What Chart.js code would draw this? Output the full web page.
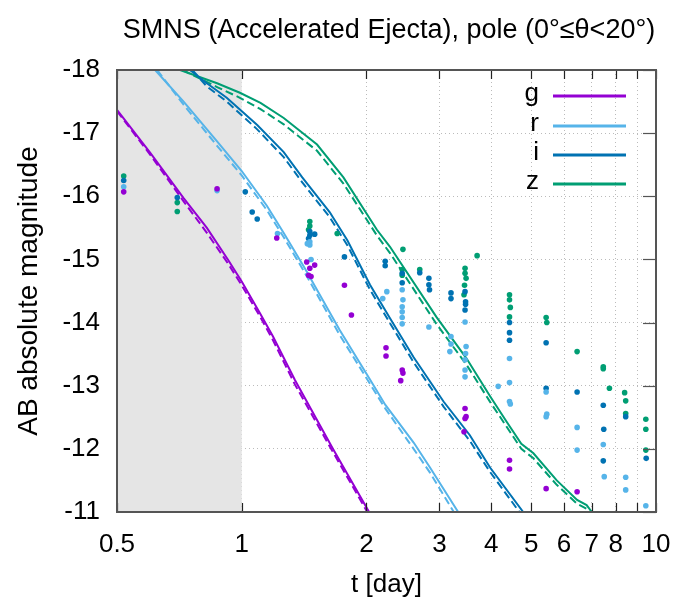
<!DOCTYPE html>
<html><head><meta charset="utf-8">
<script src="https://cdn.jsdelivr.net/npm/chart.js@4/dist/chart.umd.min.js"></script>
<style>html,body{margin:0;padding:0;background:#fff}#wrap{width:676px;height:600px}</style>
</head><body><div id="wrap"><canvas id="c" width="676" height="600"></canvas></div>
<script>
// ---------- text ----------
const titleText = 'SMNS (Accelerated Ejecta), pole (0°≤θ<20°)';
const xTitle = 't [day]';
const yTitle = 'AB absolute magnitude';
const xTickValues = [0.5, 1, 2, 3, 4, 5, 6, 7, 8, 9, 10];
const xTickLabels = ['0.5', '1', '2', '3', '4', '5', '6', '7', '8', '', '10'];
const yTickValues = [-18, -17, -16, -15, -14, -13, -12, -11];
const bands = ['g', 'r', 'i', 'z'];
const shadeFrom = 0.5, shadeTo = 1;

// ---------- model light curves (solid) ----------
const gSolidT   = [0.5, 0.601, 0.724, 0.824, 0.93, 1.0, 1.106, 1.19, 1.344, 1.66, 2.03];
const gSolidMag = [-17.37, -16.69, -15.97, -15.5, -14.98, -14.65, -14.15, -13.78, -13.09, -12.0, -11.0];
const rSolidT   = [0.618, 0.724, 0.872, 1.0, 1.15, 1.263, 1.42, 1.725, 2.04, 2.22, 2.6, 2.85, 3.33];
const rSolidMag = [-18, -17.5, -16.87, -16.4, -15.85, -15.42, -14.86, -13.88, -13.1, -12.7, -12.1, -11.7, -11.0];
const iSolidT   = [0.75, 0.824, 0.92, 1.09, 1.263, 1.4, 1.63, 1.8, 2.04, 2.28, 2.6, 3.07, 3.55, 3.98, 4.78];
const iSolidMag = [-18, -17.79, -17.56, -17.13, -16.7, -16.3, -15.75, -15.3, -14.6, -14.07, -13.45, -12.75, -12.22, -11.7, -11.0];
const zSolidT   = [0.71, 0.872, 0.99, 1.11, 1.263, 1.52, 1.76, 2.12, 2.28, 2.95, 3.49, 3.98, 4.36, 4.73, 5.06, 5.76, 6.45, 6.8, 7.0];
const zSolidMag = [-18, -17.79, -17.64, -17.48, -17.24, -16.82, -16.3, -15.47, -15.2, -14.09, -13.43, -12.83, -12.43, -12.08, -11.93, -11.5, -11.19, -11.11, -11.0];

// ---------- model light curves (dashed) ----------
const gDashT   = [0.5, 0.601, 0.724, 0.824, 0.93, 1.0, 1.106, 1.19, 1.344, 1.66, 2.01];
const gDashMag = [-17.35, -16.66, -15.92, -15.42, -14.92, -14.59, -14.1, -13.72, -13.02, -11.95, -11.0];
const rDashT   = [0.625, 0.724, 0.872, 1.0, 1.15, 1.263, 1.42, 1.725, 2.04, 2.22, 2.6, 2.85, 3.25];
const rDashMag = [-18, -17.45, -16.8, -16.33, -15.78, -15.35, -14.79, -13.8, -13.03, -12.64, -12.0, -11.62, -11.0];
const iDashT   = [0.76, 0.824, 0.92, 1.09, 1.263, 1.4, 1.63, 1.8, 2.04, 2.28, 2.6, 3.07, 3.55, 3.98, 4.68];
const iDashMag = [-18, -17.74, -17.5, -17.06, -16.62, -16.22, -15.67, -15.22, -14.52, -13.99, -13.37, -12.67, -12.13, -11.63, -11.0];
const zDashT   = [0.72, 0.872, 0.99, 1.11, 1.263, 1.52, 1.76, 2.12, 2.28, 2.95, 3.49, 3.98, 4.36, 4.73, 5.06, 5.76, 6.45, 6.8, 6.95];
const zDashMag = [-18, -17.73, -17.56, -17.38, -17.14, -16.72, -16.2, -15.38, -15.1, -13.98, -13.33, -12.74, -12.35, -12.0, -11.85, -11.43, -11.13, -11.05, -11.0];

// ---------- observed points ----------
const gObsT   = [0.519, 0.872, 1.215, 1.435, 1.46, 1.45, 1.47, 1.5, 1.77, 1.84, 2.23, 2.23, 2.44, 2.45, 2.42, 3.46, 3.46, 3.48, 3.44, 4.43, 4.43, 5.43, 6.45];
const gObsMag = [-16.07, -16.12, -15.34, -14.96, -14.86, -14.75, -14.73, -14.91, -14.59, -14.12, -13.6, -13.47, -13.25, -13.2, -13.08, -12.64, -12.48, -12.51, -12.27, -11.82, -11.68, -11.37, -11.32];
const rObsT   = [0.519, 0.872, 1.22, 1.46, 1.46, 1.44, 1.47, 2.24, 2.19, 2.44, 2.45, 2.44, 2.44, 2.44, 2.44, 2.83, 3.2, 3.2, 3.18, 3.46, 3.48, 3.47, 3.46, 3.46, 3.46, 4.16, 4.43, 4.43, 4.43, 4.45, 5.43, 5.45, 5.43, 6.45, 6.45, 7.46, 7.5, 8.45, 8.45, 9.45];
const rObsMag = [-16.15, -16.09, -15.41, -15.28, -15.23, -15.25, -15.0, -14.49, -14.38, -14.52, -14.36, -14.25, -14.17, -14.08, -13.98, -13.93, -13.78, -13.66, -13.54, -14.01, -13.62, -13.51, -13.41, -13.25, -13.14, -12.99, -13.43, -13.05, -12.75, -12.71, -12.9, -12.55, -12.51, -12.34, -11.98, -12.07, -11.56, -11.55, -11.35, -11.1];
const iObsT   = [0.519, 0.699, 1.02, 1.06, 1.09, 1.46, 1.46, 1.45, 1.5, 1.77, 2.22, 2.22, 2.44, 2.44, 2.69, 2.83, 2.83, 2.84, 3.2, 3.2, 3.46, 3.47, 3.47, 3.46, 4.43, 4.43, 4.43, 5.43, 5.43, 6.45, 7.46, 7.48, 7.46, 8.45, 9.47];
const iObsMag = [-16.25, -15.98, -16.07, -15.75, -15.64, -15.44, -15.38, -15.33, -15.4, -15.04, -14.97, -14.9, -14.78, -14.63, -14.79, -14.7, -14.6, -14.52, -14.47, -14.38, -14.49, -14.33, -14.29, -14.2, -14.0, -13.84, -13.72, -13.68, -12.96, -12.9, -12.69, -12.31, -11.81, -12.51, -11.85];
const zObsT   = [0.519, 0.699, 0.699, 1.46, 1.46, 1.45, 1.7, 2.45, 2.44, 2.44, 2.69, 3.7, 3.46, 3.46, 3.48, 3.45, 3.44, 4.43, 4.43, 4.45, 4.43, 5.43, 5.45, 6.45, 7.46, 7.46, 7.72, 8.4, 8.45, 8.45, 9.45, 9.45, 9.45];
const zObsMag = [-16.32, -15.9, -15.76, -15.6, -15.53, -15.47, -15.41, -15.16, -14.84, -14.75, -14.84, -15.06, -14.86, -14.78, -14.7, -14.59, -14.44, -14.44, -14.36, -14.24, -14.09, -14.08, -14.0, -13.54, -13.3, -13.27, -12.96, -12.89, -12.76, -12.56, -12.47, -12.31, -11.98];

const bandColors = {g: '#9400d3', r: '#56b4e9', i: '#0072b2', z: '#009e73'};

// ---------- build ----------
const zip = (t, m) => t.map((v, k) => ({x: v, y: m[k]}));
const solid = {g: [gSolidT, gSolidMag], r: [rSolidT, rSolidMag], i: [iSolidT, iSolidMag], z: [zSolidT, zSolidMag]};
const dash  = {g: [gDashT, gDashMag], r: [rDashT, rDashMag], i: [iDashT, iDashMag], z: [zDashT, zDashMag]};
const obs   = {g: [gObsT, gObsMag], r: [rObsT, rObsMag], i: [iObsT, iObsMag], z: [zObsT, zObsMag]};

const datasets = [];
bands.forEach(b => {
  datasets.push({label: b + ' obs', data: zip(...obs[b]), showLine: false, pointRadius: 2.8,
    pointBackgroundColor: bandColors[b], pointBorderWidth: 0, borderColor: bandColors[b], order: 0});
});
bands.forEach(b => {
  datasets.push({label: b, data: zip(...solid[b]), borderColor: bandColors[b], borderWidth: 2,
    pointRadius: 0, tension: 0, fill: false, order: 1, isLegend: true});
  datasets.push({label: b + ' dashed', data: zip(...dash[b]), borderColor: bandColors[b], borderWidth: 2,
    borderDash: [8, 4], pointRadius: 0, tension: 0, fill: false, order: 1});
});

const FONT = '"Liberation Sans", Arial, Helvetica, sans-serif';

const decor = {
  id: 'decor',
  beforeDatasetsDraw(chart) {
    const {ctx, chartArea: a, scales: {x}} = chart;
    const x0 = x.getPixelForValue(shadeFrom), x1 = x.getPixelForValue(shadeTo);
    ctx.save();
    ctx.fillStyle = '#e5e5e5';
    ctx.fillRect(x0, a.top, x1 - x0, a.bottom - a.top);
    ctx.restore();
  },
  afterDatasetsDraw(chart) {
    const {ctx, chartArea: a, scales: {x, y}} = chart;
    ctx.save();
    ctx.strokeStyle = '#222'; ctx.lineWidth = 1.2;
    xTickValues.forEach(v => {
      const px = Math.round(x.getPixelForValue(v)) + 0.5;
      ctx.beginPath(); ctx.moveTo(px, a.bottom); ctx.lineTo(px, a.bottom - 9);
      ctx.moveTo(px, a.top); ctx.lineTo(px, a.top + 9); ctx.stroke();
    });
    ctx.strokeStyle = '#555';
    yTickValues.forEach(v => {
      const py = Math.round(y.getPixelForValue(v)) + 0.5;
      ctx.beginPath(); ctx.moveTo(a.right, py); ctx.lineTo(a.right - 13, py); ctx.stroke();
    });
    ctx.strokeStyle = '#555'; ctx.lineWidth = 2;
    ctx.strokeRect(a.left, a.top, a.right - a.left, a.bottom - a.top);
    ctx.font = '26px ' + FONT; ctx.fillStyle = '#000';
    ctx.textAlign = 'right'; ctx.textBaseline = 'middle';
    const rows = [96, 126, 155, 184];
    chart.data.datasets.filter(d => d.isLegend).forEach((d, k) => {
      const yy = rows[k];
      ctx.fillText(d.label, 539, yy - 2);
      ctx.strokeStyle = d.borderColor; ctx.lineWidth = 3;
      ctx.beginPath(); ctx.moveTo(553, yy); ctx.lineTo(626, yy); ctx.stroke();
    });
    ctx.textAlign = 'center'; ctx.fillStyle = '#000';
    ctx.font = '27px ' + FONT;
    ctx.fillText(titleText, 389, 31);
    ctx.restore();
  }
};

new Chart(document.getElementById('c'), {
  type: 'line',
  data: {datasets},
  plugins: [decor],
  options: {
    responsive: false, animation: false, events: [],
    layout: {padding: {top: 70, right: 20, left: 0, bottom: 0}},
    plugins: {legend: {display: false}, tooltip: {enabled: false}, title: {display: false}},
    scales: {
      x: {
        type: 'logarithmic', min: 0.5, max: 10,
        afterBuildTicks: s => { s.ticks = xTickValues.map(v => ({value: v})); },
        afterFit: s => { s.height = 88; s.paddingLeft = 0; s.paddingRight = 0; },
        ticks: {autoSkip: false, maxRotation: 0, padding: 17, color: '#000',
          font: {family: FONT, size: 26},
          callback: (v, k) => xTickLabels[k]},
        grid: {color: '#bbbbbb', lineWidth: 1, drawTicks: false},
        border: {display: false, dash: [1, 3]},
        title: {display: true, text: xTitle, color: '#000', font: {family: FONT, size: 26}, padding: {top: 0, bottom: 0}}
      },
      y: {
        type: 'linear', min: -18, max: -11, reverse: true,
        afterBuildTicks: s => { s.ticks = yTickValues.map(v => ({value: v})); },
        afterFit: s => { s.width = 117; s.paddingTop = 0; s.paddingBottom = 0; },
        ticks: {padding: 17, color: '#000', font: {family: FONT, size: 26}, callback: v => String(v)},
        grid: {color: '#bbbbbb', lineWidth: 1, drawTicks: false},
        border: {display: false, dash: [1, 3]},
        title: {display: true, text: yTitle, color: '#000', font: {family: FONT, size: 28}, padding: {top: 12, bottom: 0}}
      }
    }
  }
});
</script></body></html>
